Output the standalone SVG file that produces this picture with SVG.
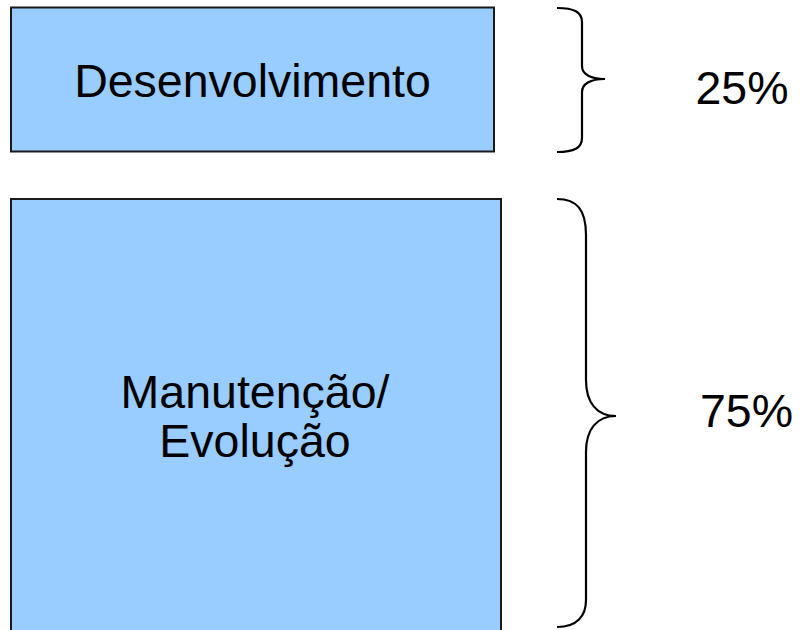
<svg xmlns="http://www.w3.org/2000/svg" width="802" height="630" viewBox="0 0 802 630">
<style>
.box{fill:#99CCFF;stroke:#1a1a1a;stroke-width:2}
.t{font-family:"Liberation Sans",Arial,sans-serif;font-size:46.5px;fill:#000;text-anchor:middle}
.brace{fill:none;stroke:#000;stroke-width:2.2}
</style>
<rect width="802" height="630" fill="#fff"/>
<g id="desenvolvimento">
<rect class="box" x="11" y="7.5" width="483" height="144"/>
<text class="t" x="252.5" y="97" font-size="47.5">Desenvolvimento</text>
</g>
<g id="manutencao">
<rect class="box" x="11" y="199" width="490" height="440"/>
<text class="t" x="255" y="408">Manutenção/</text>
<text class="t" x="255" y="457">Evolução</text>
</g>
<g id="braces">
<path class="brace" d="M557,8 C574,8 582,12 582,22 L582,66 C582,74 590,79 605,79 C590,79 582,84 582,92 L582,138 C582,148 574,152 557,152"/>
<path class="brace" d="M557,199 C577,199 586,210 586,235 L586,380 C586,403 597,416 616,416 C597,416 586,429 586,452 L586,600 C586,616 577,627 557,627"/>
</g>
<g id="labels">
<text class="t" x="742" y="104" font-size="46">25%</text>
<text class="t" x="746.5" y="427" font-size="45">75%</text>
</g>
</svg>
